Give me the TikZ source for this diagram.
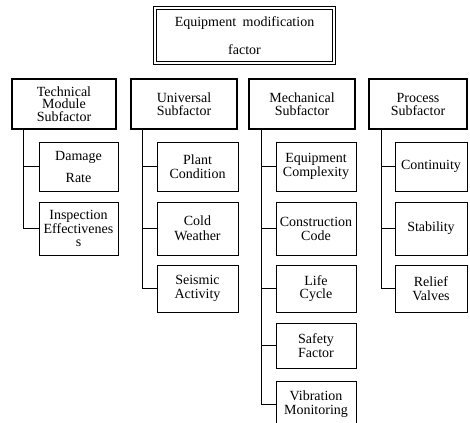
\documentclass[tikz,border=0pt]{standalone}
\usepackage{fontspec}
\setmainfont{Liberation Serif}
\begin{document}
\begin{tikzpicture}[x=1pt,y=-1pt,
  every node/.style={font=\fontsize{14}{14}\selectfont, align=center, inner sep=0pt},
  topbox/.style={draw, double, double distance=1.6pt, line width=0.8pt},
  subbox/.style={draw, line width=2.4pt, minimum height=50pt},
  leaf/.style={draw, line width=0.9pt},
  link/.style={line width=0.9pt}]
\useasboundingbox (0,0) rectangle (470,422);
\clip (0,0) rectangle (470,422);

% top
\node[topbox, minimum width=179pt, minimum height=55pt] (top) at (244.5,35.5)
  {Equipment\hspace{3pt} modification\\[14pt]factor};

% subfactors
\node[subbox, minimum width=104pt, font=\fontsize{14}{12.5}\selectfont] (t1) at (64,104) {Technical\\Module\\Subfactor};
\node[subbox, minimum width=106pt, font=\fontsize{14}{13}\selectfont] (t2) at (184,104) {Universal\\Subfactor};
\node[subbox, minimum width=106pt, font=\fontsize{14}{13}\selectfont] (t3) at (302,104) {Mechanical\\Subfactor};
\node[subbox, minimum width=98pt, font=\fontsize{14}{13}\selectfont] (t4) at (418,104) {Process\\Subfactor};

% Technical children
\node[leaf, minimum width=79pt, minimum height=49pt, font=\fontsize{14}{22}\selectfont] (a1) at (78.5,166.5) {Damage\\Rate};
\node[leaf, minimum width=79pt, minimum height=53pt, font=\fontsize{14}{13.5}\selectfont] (a2) at (78.5,228.5) {Inspection\\Effectivenes\\s};

% Universal children
\node[leaf, minimum width=81pt, minimum height=49pt] (b1) at (197.5,166.5) {Plant\\Condition};
\node[leaf, minimum width=81pt, minimum height=53pt, font=\fontsize{14}{15}\selectfont] (b2) at (197.5,228.5) {Cold\\Weather};
\node[leaf, minimum width=81pt, minimum height=47pt] (b3) at (197.5,288.5) {Seismic\\Activity};

% Mechanical children
\node[leaf, minimum width=80pt, minimum height=49pt] (c1) at (316,166.5) {Equipment\\Complexity};
\node[leaf, minimum width=80pt, minimum height=53pt] (c2) at (316,228.5) {Construction\\Code};
\node[leaf, minimum width=80pt, minimum height=47pt, font=\fontsize{14}{13}\selectfont] (c3) at (316,288.5) {Life\\Cycle};
\node[leaf, minimum width=80pt, minimum height=45pt] (c4) at (316,345.5) {Safety\\Factor};
\node[leaf, minimum width=80pt, minimum height=46pt] (c5) at (316,404) {Vibration\\Monitoring};

% Process children
\node[leaf, minimum width=72pt, minimum height=49pt] (d1) at (431,166.5) {Continuity};
\node[leaf, minimum width=72pt, minimum height=53pt] (d2) at (431,228.5) {Stability};
\node[leaf, minimum width=72pt, minimum height=47pt] (d3) at (431,288.5) {Relief\\Valves};

% trunks
\coordinate (k1) at ([xshift=13pt]t1.south west);
\coordinate (k2) at ([xshift=13pt]t2.south west);
\coordinate (k3) at ([xshift=14pt]t3.south west);
\coordinate (k4) at ([xshift=14pt]t4.south west);

\draw[link] (k1) |- (a1.west);
\draw[link] (k1) |- (a2.west);
\draw[link] (k2) |- (b1.west);
\draw[link] (k2) |- (b2.west);
\draw[link] (k2) |- (b3.west);
\draw[link] (k3) |- (c1.west);
\draw[link] (k3) |- (c2.west);
\draw[link] (k3) |- (c3.west);
\draw[link] (k3) |- (c4.west);
\draw[link] (k3) |- (c5.west);
\draw[link] (k4) |- (d1.west);
\draw[link] (k4) |- (d2.west);
\draw[link] (k4) |- (d3.west);
\end{tikzpicture}
\end{document}
